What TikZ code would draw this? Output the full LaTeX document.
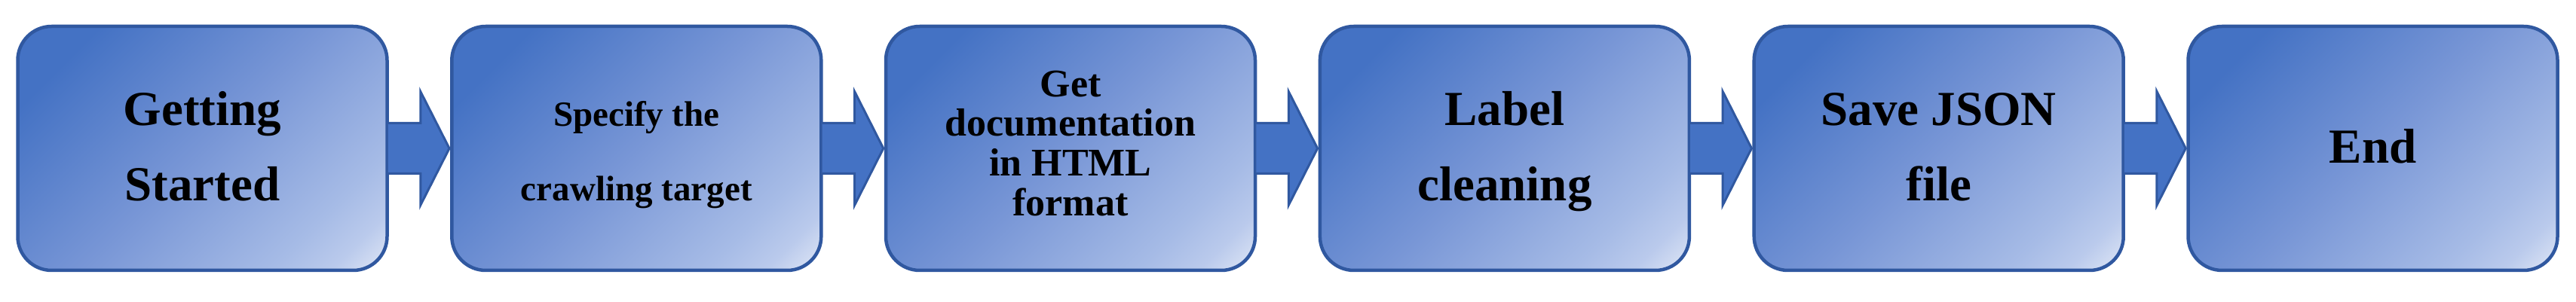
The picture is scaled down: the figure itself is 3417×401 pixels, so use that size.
\documentclass[tikz,border=0pt]{standalone}
\usepackage{fontspec}
\setmainfont{Liberation Serif}
\usetikzlibrary{calc}
\definecolor{gA}{HTML}{4472C4}
\definecolor{gB}{HTML}{7896D6}
\definecolor{gC}{HTML}{A6BBE6}
\definecolor{gD}{HTML}{BACAEC}
\definecolor{gE}{HTML}{DDE5F5}
\definecolor{bordc}{HTML}{3058A0}
\pgfdeclarehorizontalshading{boxshade}{100bp}{color(0bp)=(gA); color(24bp)=(gA); color(50bp)=(gB); color(72bp)=(gC); color(79bp)=(gD); color(85bp)=(gE); color(100bp)=(gE)}
\begin{document}
\begin{tikzpicture}[x=1pt,y=1pt,
  box/.style={draw=bordc, line width=4.5pt, rounded corners=45pt, shading=boxshade, shading angle=-45,
    minimum width=490pt, minimum height=324pt, inner sep=0pt, align=center},
  bigtxt/.style={font=\fontsize{65}{100}\selectfont\bfseries},
  arr/.style={draw=bordc, fill=gA, line width=3pt, line join=miter}]
\useasboundingbox (0,0) rectangle (3417,401);
\node[box,bigtxt] (b1) at (268.5,204) {\strut Getting\\\strut Started};
\node[box,font=\fontsize{47}{99}\selectfont\bfseries] (b2) at (844.3,204) {\strut Specify the\\\strut crawling target};
\node[box,font=\fontsize{52}{51}\selectfont\bfseries] (b3) at (1420,204) {\strut Get\\\strut documentation\\\strut in HTML\\\strut format};
\node[box,bigtxt] (b4) at (1995.9,204) {\strut Label\\\strut cleaning};
\node[box,bigtxt] (b5) at (2571.7,204) {\strut Save JSON\\\strut file};
\node[box,bigtxt] (b6) at (3147.5,204) {\strut End};
\foreach \p/\q in {b1/b2,b2/b3,b3/b4,b4/b5,b5/b6}{
  \draw[arr] ($(\p.east)+(-1,33.5)$) -- ($(\p.east)+(42,33.5)$) -- ($(\p.east)+(42,75.5)$)
    -- ($(\q.west)+(-1,0)$) -- ($(\p.east)+(42,-75.5)$) -- ($(\p.east)+(42,-33.5)$) -- ($(\p.east)+(-1,-33.5)$);
}
\end{tikzpicture}
\end{document}
